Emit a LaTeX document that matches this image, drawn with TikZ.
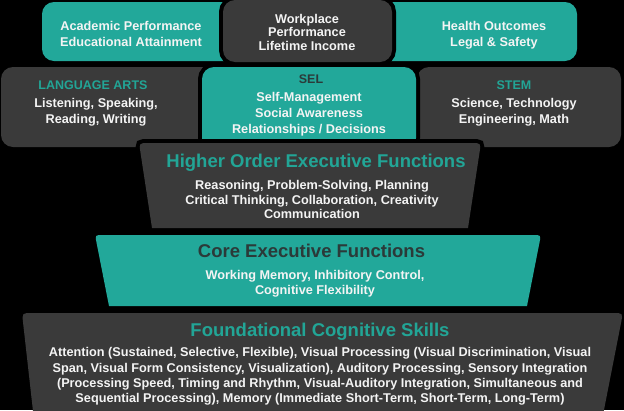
\documentclass[tikz,border=0pt]{standalone}
\usepackage{fontspec}
\setmainfont{Liberation Sans}
\definecolor{tealc}{HTML}{22A89A}
\definecolor{darkc}{HTML}{3A3A3A}
\definecolor{tealt}{HTML}{22A596}
\definecolor{darkt}{HTML}{2B3A39}
\definecolor{txt}{HTML}{F4F4F4}
\begin{document}
\begin{tikzpicture}[x=1pt,y=-1pt,
  outl/.style={preaction={draw=black,line width=8pt}},
  body/.style={font=\bfseries\fontsize{12.7}{15}\selectfont, text=txt, inner sep=0pt, anchor=base},
  fbody/.style={body},
  head/.style={font=\bfseries\fontsize{12.5}{15}\selectfont, text=tealt, inner sep=0pt, anchor=base},
  dhead/.style={head, text=darkt},
  title/.style={font=\bfseries\fontsize{18.5}{20}\selectfont, text=tealt, inner sep=0pt, anchor=base},
  dtitle/.style={title, text=darkt}]
\useasboundingbox (0,0) rectangle (624,410);
\fill[black] (0,0) rectangle (624,410);
% row 1
\fill[tealc, rounded corners=12pt] (42,2) rectangle (240,61);
\fill[tealc, rounded corners=12pt] (375,2) rectangle (577,61);
\path[fill=darkc, outl, rounded corners=12pt] (223,0) rectangle (392,62);
% row 2
\fill[darkc, rounded corners=12pt] (1,67) rectangle (215,147);
\fill[darkc, rounded corners=12pt] (417,67) rectangle (621,147);
\path[fill=tealc, outl, rounded corners=12pt] (202,67) rectangle (416,150);
% higher order
\path[fill=darkc, outl] (152,228) -- (140.4,152) .. controls (139,143) .. (149,143) -- (471,143) .. controls (481,143) .. (479.6,152) -- (468,228) -- cycle;
% core
\path[fill=tealc] (109,306) -- (96.6,243) .. controls (95,235) .. (103,235) -- (533,235) .. controls (541,235) .. (539.4,243) -- (527,306) -- cycle;
% foundation
\path[fill=darkc] (34,420) -- (23.1,323) .. controls (22,313) .. (32,313) -- (613,313) .. controls (623,313) .. (621,323) -- (602,420) -- cycle;
% texts row 1
\node[body] (a1) at (131,30) {Academic Performance};
\node[body] (a2) at (131,46) {Educational Attainment};
\node[body] (w1) at (307,23) {Workplace};
\node[body] (w2) at (307,36.7) {Performance};
\node[body] (w3) at (307,50) {Lifetime Income};
\node[body] (h1) at (494,30) {Health Outcomes};
\node[body] (h2) at (494,46) {Legal \& Safety};
% row 2
\node[head] (la0) at (93,89) {LANGUAGE ARTS};
\node[body] (la1) at (96,107) {Listening, Speaking,};
\node[body] (la2) at (96,123) {Reading, Writing};
\node[dhead] (s0) at (311,83) {SEL};
\node[body] (s1) at (309,101) {Self-Management};
\node[body] (s2) at (309,117) {Social Awareness};
\node[body] (s3) at (309,133) {Relationships / Decisions};
\node[head] (st0) at (514,89) {STEM};
\node[body] (st1) at (514,107) {Science, Technology};
\node[body] (st2) at (514,123) {Engineering, Math};
% higher order
\node[title] (ho0) at (316,167) {Higher Order Executive Functions};
\node[body] (ho1) at (312,189) {Reasoning, Problem-Solving, Planning};
\node[body] (ho2) at (312,204) {Critical Thinking, Collaboration, Creativity};
\node[body] (ho3) at (312,218) {Communication};
% core
\node[dtitle] (c0) at (311.5,257) {Core Executive Functions};
\node[body] (c1) at (315,279) {Working Memory, Inhibitory Control,};
\node[body] (c2) at (315,294) {Cognitive Flexibility};
% foundation
\node[title] (f0) at (320,336) {Foundational Cognitive Skills};
\node[fbody] (f1) at (320,356) {Attention (Sustained, Selective, Flexible), Visual Processing (Visual Discrimination, Visual};
\node[fbody] (f2) at (320,372) {Span, Visual Form Consistency, Visualization), Auditory Processing, Sensory Integration};
\node[fbody] (f3) at (320,387) {(Processing Speed, Timing and Rhythm, Visual-Auditory Integration, Simultaneous and};
\node[fbody] (f4) at (320,402) {Sequential Processing), Memory (Immediate Short-Term, Short-Term, Long-Term)};
\end{tikzpicture}
\end{document}
